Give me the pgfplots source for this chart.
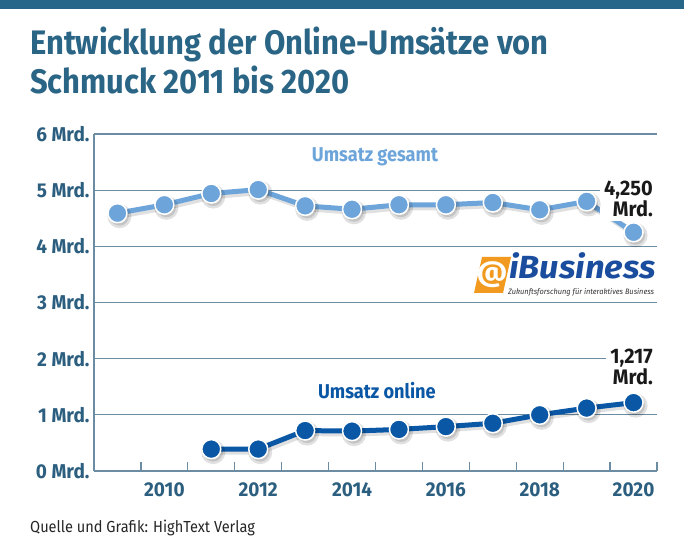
\documentclass[border=0pt]{standalone}
\usepackage{fontspec}
\setmainfont{Fira Sans}[FakeStretch=0.91]
\newfontfamily\tickfont{Fira Sans}[FakeStretch=0.95]
\newfontfamily\logofont{Fira Sans}[FakeStretch=1.08]
\newfontfamily\logosub{Fira Sans}[FakeStretch=0.95]
\usepackage{pgfplots}
\pgfplotsset{compat=1.18}
\definecolor{titleblue}{HTML}{2A6586}
\definecolor{barblue}{HTML}{276689}
\definecolor{gridc}{HTML}{6B8CA3}
\definecolor{lightb}{HTML}{6DA5DA}
\definecolor{darkb}{HTML}{0A57A5}
\definecolor{labc}{HTML}{2C5F7F}
\definecolor{logoorange}{HTML}{F29A1F}
\definecolor{logoblue}{HTML}{1B4D9E}
\pgfplotstableread{
year val
2009 4.59
2010 4.74
2011 4.94
2012 5.01
2013 4.72
2014 4.66
2015 4.74
2016 4.74
2017 4.78
2018 4.65
2019 4.80
2020 4.25
}\gesamt
\pgfplotstableread{
year val
2011 0.39
2012 0.39
2013 0.72
2014 0.71
2015 0.74
2016 0.79
2017 0.85
2018 1.00
2019 1.12
2020 1.217
}\online
\begin{document}
\begin{tikzpicture}[x=1pt,y=1pt]
\useasboundingbox (0,0) rectangle (684,537);
\fill[white] (0,0) rectangle (684,537);
\fill[barblue] (0,528) rectangle (684,537);
\node[anchor=base west, inner sep=0, font=\fontsize{34}{40}\selectfont\bfseries, text=titleblue] at (30,482) {Entwicklung der Online-Umsätze von};
\node[anchor=base west, inner sep=0, font=\fontsize{34}{40}\selectfont\bfseries, text=titleblue] at (30,443) {Schmuck 2011 bis 2020};
\node[anchor=base west, inner sep=0, font=\fontsize{16}{19}\selectfont, text=black!85] at (30,5) {Quelle und Grafik: HighText Verlag};
% logo
\fill[logoorange] (474,244) -- (503,244) -- (511,280) -- (482,280) -- cycle;
\node[font=\logofont\fontsize{28}{28}\selectfont\bfseries, text=white, inner sep=0] at (492,262) {@};
\node[anchor=base west, inner sep=0, font=\logofont\fontsize{32}{32}\selectfont\bfseries\itshape, text=logoblue] at (509,258) {iBusiness};
\node[anchor=base west, inner sep=0, font=\logosub\fontsize{7.8}{8}\selectfont\itshape, text=black!80] at (508,242) {Zukunftsforschung für interaktives Business};
\begin{axis}[
  at={(94pt,66pt)}, anchor=south west,
  scale only axis, width=563pt, height=337pt,
  xmin=2008.5, xmax=2020.5, ymin=0, ymax=6,
  axis lines=left, axis line style={-, gridc, line width=1.3pt},
  clip=false,
  xtick={2009.5,2010.5,...,2020.5}, xticklabels={},
  tick align=inside, major tick length=9pt,
  xtick style={gridc, line width=1.2pt},
  extra x ticks={2010,2012,2014,2016,2018,2020},
  extra x tick labels={2010,2012,2014,2016,2018,2020},
  extra x tick style={major tick length=0pt, grid=none,
     xticklabel style={font=\tickfont\fontsize{20}{22}\selectfont\bfseries, text=labc, yshift=-8pt}},
  ytick={0,1,2,3,4,5,6},
  yticklabels={0 Mrd.,1 Mrd.,2 Mrd.,3 Mrd.,4 Mrd.,5 Mrd.,6 Mrd.},
  ytick style={draw=none},
  yticklabel style={font=\tickfont\fontsize{20}{22}\selectfont\bfseries, text=labc, xshift=-1pt},
  ymajorgrids, grid style={gridc, line width=1.2pt},
]
% shadows
\addplot[black, opacity=0.12, line width=5pt, xshift=2pt, yshift=-3pt, mark=*, mark size=9.5pt, mark options={fill=black, draw=none}] table[x=year,y=val]{\gesamt};
\addplot[black, opacity=0.12, line width=5pt, xshift=2pt, yshift=-3pt, mark=*, mark size=9.5pt, mark options={fill=black, draw=none}] table[x=year,y=val]{\online};
% series
\addplot[lightb, line width=5pt, mark=*, mark size=9.5pt, mark options={fill=lightb, draw=white, line width=1.5pt}] table[x=year,y=val]{\gesamt};
\addplot[darkb, line width=5pt, mark=*, mark size=9.5pt, mark options={fill=darkb, draw=white, line width=1.5pt}] table[x=year,y=val]{\online};
\node[font=\fontsize{20}{22}\selectfont\bfseries, text=lightb] at (axis cs:2014.49,5.6) {Umsatz gesamt};
\node[font=\fontsize{20}{22}\selectfont\bfseries, text=darkb] at (axis cs:2014.53,1.43) {Umsatz online};
\node[anchor=north east, align=right, fill=white, inner sep=4pt, font=\tickfont\fontsize{21}{21}\selectfont\bfseries, text=black!90] at (axis cs:2020.5,5.24) {4,250\\Mrd.};
\node[anchor=north east, align=right, fill=white, inner sep=4pt, font=\tickfont\fontsize{21}{21}\selectfont\bfseries, text=black!90] at (axis cs:2020.5,2.24) {1,217\\Mrd.};
\end{axis}
\end{tikzpicture}
\end{document}
